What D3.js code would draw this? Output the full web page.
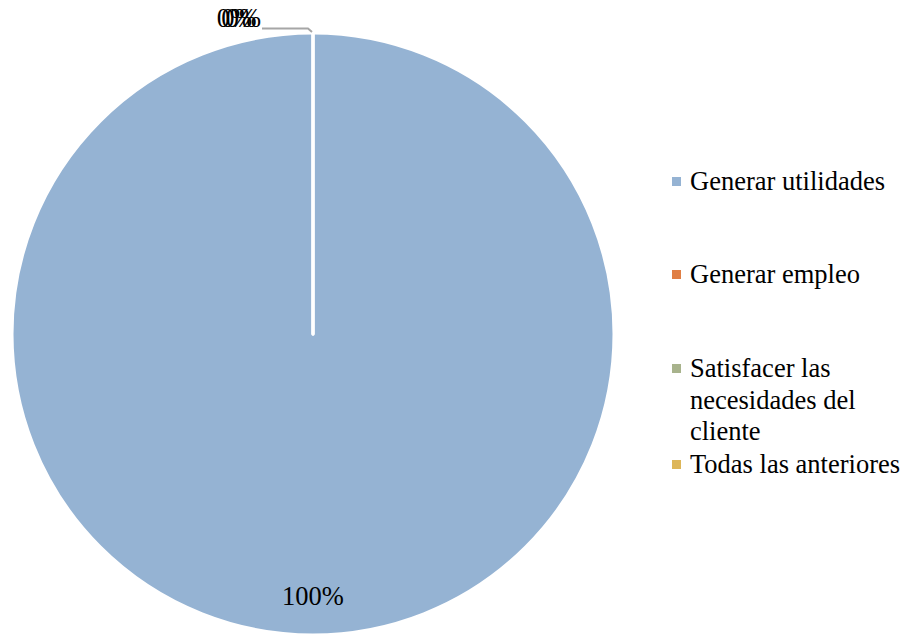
<!DOCTYPE html>
<html>
<head>
<meta charset="utf-8">
<script src="https://cdn.jsdelivr.net/npm/d3@7/dist/d3.min.js"></script>
<style>
  html, body { margin: 0; padding: 0; background: #fff; }
</style>
</head>
<body>
<svg id="chart" width="910" height="635"></svg>
<script>
// Categories and their shares (percent)
const categories = ["Generar utilidades", "Generar empleo", "Satisfacer las necesidades del cliente", "Todas las anteriores"];
const legendLines = [["Generar utilidades"], ["Generar empleo"], ["Satisfacer las", "necesidades del", "cliente"], ["Todas las anteriores"]];
const values = [100, 0, 0, 0];
const colors = ["#95B3D3", "#E07F45", "#A8B38C", "#DDB659"];

const FONT = "'Liberation Serif', serif";
const FS = 26.5;

const svg = d3.select("#chart");
const cx = 313, cy = 334, radius = 301;

const pie = d3.pie().sort(null).value(d => d)(values);
const arc = d3.arc().innerRadius(0).outerRadius(radius);
const color = d3.scaleOrdinal().domain(categories).range(colors);

const g = svg.append("g").attr("transform", `translate(${cx},${cy})`);

g.selectAll("path.slice")
  .data(pie)
  .join("path")
  .attr("class", "slice")
  .attr("d", arc)
  .attr("fill", (d, i) => color(categories[i]))
  .attr("stroke", "#fff")
  .attr("stroke-width", 3)
  .attr("stroke-linejoin", "round");

const fmt = v => d3.format(".0f")(v) + "%";

// Label for the large slice, inside near the rim
pie.forEach(d => {
  if (d.endAngle - d.startAngle <= 0) return;
  const a = (d.startAngle + d.endAngle) / 2;
  const r = radius * 0.88;
  g.append("text")
    .attr("x", Math.sin(a) * r)
    .attr("y", -Math.cos(a) * r)
    .attr("text-anchor", "middle")
    .attr("dominant-baseline", "middle")
    .style("font-family", FONT)
    .attr("font-size", FS)
    .text(fmt(d.data));
});

// Zero-width slices: labels pushed outside with a leader line
const zero = pie.filter(d => d.endAngle - d.startAngle <= 0);
zero.forEach((d, k) => {
  const a = d.startAngle;
  const px = Math.sin(a) * radius, py = -Math.cos(a) * radius;
  const ly = py - 4.5;
  const lx = px - 51;
  if (k === 0) {
    g.append("path")
      .attr("d", `M${px - 1},${py - 1} L${px - 5},${ly} L${lx},${ly}`)
      .attr("fill", "none")
      .attr("stroke", "#A6A6A6")
      .attr("stroke-width", 2);
  }
  g.append("text")
    .attr("x", lx - 1 - (zero.length - 1 - k) * 4.5)
    .attr("y", ly - 2)
    .attr("text-anchor", "end")
    .style("font-family", FONT)
    .attr("font-size", FS)
    .text(fmt(d.data));
});

// Legend
const legendX = 672;
const legendY = [182, 275, 369, 465];
const lineH = 31.5;
const legend = svg.append("g");
categories.forEach((c, i) => {
  const row = legend.append("g").attr("transform", `translate(${legendX},${legendY[i]})`);
  row.append("rect")
    .attr("x", 0).attr("y", -5)
    .attr("width", 9).attr("height", 9)
    .attr("fill", color(c));
  const t = row.append("text")
    .attr("x", 18)
    .attr("y", 0)
    .attr("dominant-baseline", "middle")
    .style("font-family", FONT)
    .attr("font-size", FS);
  legendLines[i].forEach((ln, j) => {
    t.append("tspan").attr("x", 18).attr("y", 2 + j * lineH).text(ln);
  });
});
</script>
</body>
</html>
